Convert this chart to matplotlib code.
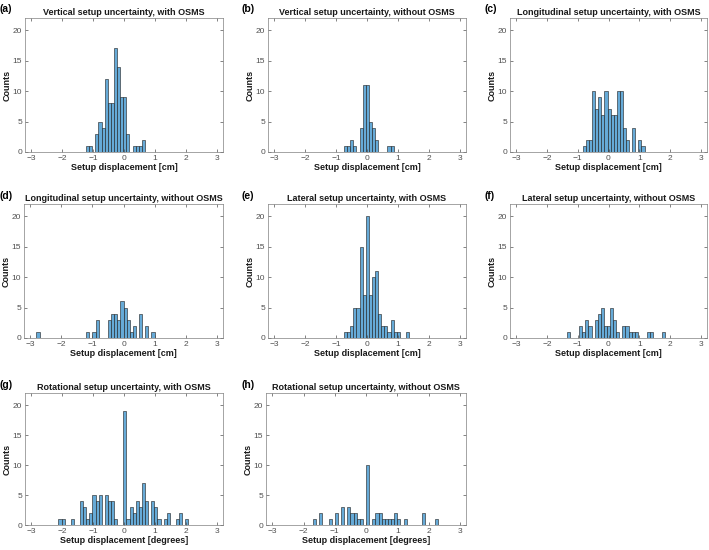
import numpy as np
import matplotlib
matplotlib.use("Agg")
import matplotlib.pyplot as plt

plt.rcParams['font.family'] = ['Liberation Sans', 'DejaVu Sans']

BIN_W = 0.1

# left edge of first bin and counts of consecutive bins
a_start = -1.225
a_counts = [1, 1, 0, 3, 5, 4, 12, 8, 8, 17, 14, 9, 9, 3, 0, 1, 1, 1, 2]

b_start = -0.74
b_counts = [1, 1, 2, 1, 0, 4, 11, 11, 5, 4, 2, 0, 0, 0, 1, 1]

c_start = -0.83
c_counts = [1, 2, 2, 10, 7, 9, 6, 10, 7, 6, 6, 10, 10, 4, 2, 0, 4, 0, 2, 1]

d_start = -2.8
d_counts = [1, 0, 0, 0, 0, 0, 0, 0, 0, 0, 0, 0, 0, 0, 0, 0,
            1, 0, 1, 3, 0, 0, 0, 3, 4, 4, 3, 6, 5, 3, 1, 2, 0, 4, 0, 2, 0, 1]

e_start = -0.74
e_counts = [1, 1, 2, 5, 5, 15, 7, 20, 7, 10, 11, 4, 2, 2, 1, 3, 1, 1, 0, 0, 1]

f_start = -1.35
f_counts = [1, 0, 0, 0, 2, 1, 3, 2, 0, 3, 4, 5, 2, 2, 5, 3, 1, 0, 2, 2,
            1, 1, 1, 0, 0, 0, 1, 1, 0, 0, 0, 1]

g_start = -2.12
g_counts = [1, 1, 0, 0, 1, 0, 0, 4, 3, 1, 2, 5, 4, 5, 0, 5, 4, 4, 1, 0, 0,
            19, 1, 3, 2, 4, 3, 7, 4, 0, 4, 3, 1, 0, 1, 2, 0, 0, 1, 2, 0, 1]

h_start = -1.7
h_counts = [1, 0, 2, 0, 0, 1, 0, 2, 0, 3, 0, 3, 2, 2, 1, 1, 0,
            10, 0, 1, 2, 2, 1, 1, 1, 1, 2, 1, 0, 1, 0, 0, 0, 0, 0, 2, 0, 0, 0, 1]

titles = [
    "Vertical setup uncertainty, with OSMS",
    "Vertical setup uncertainty, without OSMS",
    "Longitudinal setup uncertainty, with OSMS",
    "Longitudinal setup uncertainty, without OSMS",
    "Lateral setup uncertainty, with OSMS",
    "Lateral setup uncertainty, without OSMS",
    "Rotational setup uncertainty, with OSMS",
    "Rotational setup uncertainty, without OSMS",
]
letters = ["(a)", "(b)", "(c)", "(d)", "(e)", "(f)", "(g)", "(h)"]
xlabels = ["Setup displacement [cm]"] * 6 + ["Setup displacement [degrees]"] * 2
starts = [a_start, b_start, c_start, d_start, e_start, f_start, g_start, h_start]
counts = [a_counts, b_counts, c_counts, d_counts, e_counts, f_counts, g_counts, h_counts]

W, H = 709, 550
# axes boxes in pixels: left, right, top, bottom
boxes = [
    (25, 223, 18, 152), (268, 466, 18, 152), (510, 707, 18, 152),
    (24, 223, 204, 338), (268, 466, 204, 338), (510, 707, 204, 338),
    (25, 223, 393, 525), (266, 466, 393, 525),
]
label_pos = [(0, 9), (241, 9), (484, 9), (0, 196), (241, 196), (484, 196), (0, 385), (241, 385)]

face = (0.40, 0.668, 0.845)
axcol = '#505050'

fig = plt.figure(figsize=(W / 100, H / 100), dpi=100)

for i in range(8):
    l, r, t, b = boxes[i]
    ax = fig.add_axes([l / W, 1 - b / H, (r - l) / W, (b - t) / H])
    n = np.array(counts[i])
    lefts = starts[i] + BIN_W * np.arange(len(n))
    keep = n > 0
    ax.bar(lefts[keep], n[keep], width=BIN_W, align='edge', color=face,
           edgecolor='#1a1a1a', linewidth=0.4)
    ax.set_xlim(-3.2, 3.2)
    ax.set_ylim(0, 22)
    ax.set_xticks([-3, -2, -1, 0, 1, 2, 3])
    ax.set_yticks([0, 5, 10, 15, 20])
    ax.tick_params(direction='in', length=2, width=0.5, top=True, right=True,
                   labelsize=6, colors=axcol, pad=2)
    for s in ax.spines.values():
        s.set_linewidth(0.5)
        s.set_color('#808080')
    ax.set_title(titles[i], fontsize=6.5, fontweight='bold', pad=2, color='#1a1a1a')
    ax.set_xlabel(xlabels[i], fontsize=6.5, fontweight='bold', labelpad=1, color='#1a1a1a')
    ax.set_ylabel("Counts", fontsize=6.5, fontweight='bold', labelpad=1, color='#1a1a1a')
    fx, fy = label_pos[i]
    fig.text(fx / W, 1 - fy / H, letters[i], fontsize=7.5, fontweight='bold',
             va='center', ha='left')

fig.savefig("out.png", dpi=100)
